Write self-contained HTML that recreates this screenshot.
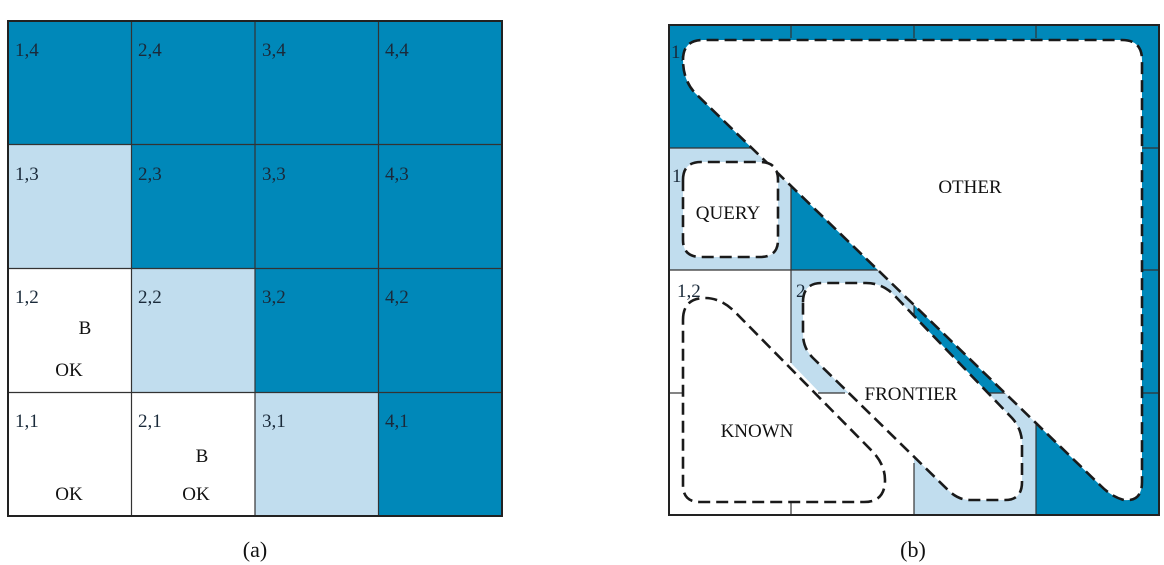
<!DOCTYPE html>
<html><head><meta charset="utf-8"><style>html,body{margin:0;padding:0;background:#fff}svg{display:block}</style></head>
<body>
<svg width="1164" height="565" viewBox="0 0 1164 565" xmlns="http://www.w3.org/2000/svg" font-family="Liberation Serif, serif">
<defs>
<style>.d{fill:#0088b9}.l{fill:#c1ddee}.w{fill:#fff}.t{font-size:19px;fill:#1a2a3a}.k{font-size:19px;fill:#111}</style>
</defs>
<g>
<rect x="8" y="21" width="123.5" height="123.5" class="d"/>
<rect x="131.5" y="21" width="123.5" height="123.5" class="d"/>
<rect x="255" y="21" width="123.5" height="123.5" class="d"/>
<rect x="378.5" y="21" width="123.5" height="123.5" class="d"/>
<rect x="8" y="144.5" width="123.5" height="124" class="l"/>
<rect x="131.5" y="144.5" width="123.5" height="124" class="d"/>
<rect x="255" y="144.5" width="123.5" height="124" class="d"/>
<rect x="378.5" y="144.5" width="123.5" height="124" class="d"/>
<rect x="131.5" y="268.5" width="123.5" height="124" class="l"/>
<rect x="255" y="268.5" width="123.5" height="124" class="d"/>
<rect x="378.5" y="268.5" width="123.5" height="124" class="d"/>
<rect x="255" y="392.5" width="123.5" height="123.5" class="l"/>
<rect x="378.5" y="392.5" width="123.5" height="123.5" class="d"/>
<g stroke="#333" stroke-width="1.2">
<line x1="131.5" y1="21" x2="131.5" y2="516"/><line x1="255" y1="21" x2="255" y2="516"/><line x1="378.5" y1="21" x2="378.5" y2="516"/>
<line x1="8" y1="144.5" x2="502" y2="144.5"/><line x1="8" y1="268.5" x2="502" y2="268.5"/><line x1="8" y1="392.5" x2="502" y2="392.5"/>
</g>
<rect x="8" y="21" width="494" height="495" fill="none" stroke="#222" stroke-width="2"/>
<g class="t">
<text x="15" y="56">1,4</text><text x="138" y="56">2,4</text><text x="262" y="56">3,4</text><text x="385" y="56">4,4</text>
<text x="15" y="180">1,3</text><text x="138" y="180">2,3</text><text x="262" y="180">3,3</text><text x="385" y="180">4,3</text>
<text x="15" y="303">1,2</text><text x="138" y="303">2,2</text><text x="262" y="303">3,2</text><text x="385" y="303">4,2</text>
<text x="15" y="427">1,1</text><text x="138" y="427">2,1</text><text x="262" y="427">3,1</text><text x="385" y="427">4,1</text>
</g>
<g class="k" text-anchor="middle">
<text x="85" y="334">B</text><text x="69" y="376">OK</text>
<text x="202" y="462">B</text><text x="69" y="500">OK</text><text x="196" y="500">OK</text>
</g>
<text x="255" y="557" text-anchor="middle" font-size="22" fill="#111">(a)</text>
</g>

<g>
<rect x="669" y="25" width="122" height="123" class="d"/>
<rect x="791" y="25" width="123" height="123" class="d"/>
<rect x="914" y="25" width="122" height="123" class="d"/>
<rect x="1036" y="25" width="123" height="123" class="d"/>
<rect x="669" y="148" width="122" height="122" class="l"/>
<rect x="791" y="148" width="123" height="122" class="d"/>
<rect x="914" y="148" width="122" height="122" class="d"/>
<rect x="1036" y="148" width="123" height="122" class="d"/>
<rect x="791" y="270" width="123" height="123" class="l"/>
<rect x="914" y="270" width="122" height="123" class="d"/>
<rect x="1036" y="270" width="123" height="123" class="d"/>
<rect x="914" y="393" width="122" height="122" class="l"/>
<rect x="1036" y="393" width="123" height="122" class="d"/>
<polygon points="791,363 791,394 821,394" fill="#fff"/>
<g stroke="#333" stroke-width="1.2">
<line x1="791" y1="25" x2="791" y2="38"/><line x1="791" y1="148" x2="791" y2="363"/><line x1="791" y1="502" x2="791" y2="515"/>
<line x1="914" y1="25" x2="914" y2="38"/><line x1="914" y1="270" x2="914" y2="393"/><line x1="914" y1="463" x2="914" y2="515"/>
<line x1="1036" y1="25" x2="1036" y2="38"/><line x1="1036" y1="270" x2="1036" y2="515"/>
<line x1="669" y1="148" x2="1159" y2="148"/><line x1="669" y1="270" x2="1159" y2="270"/>
<line x1="669" y1="393" x2="683" y2="393"/><line x1="818" y1="393" x2="845" y2="393"/><line x1="914" y1="393" x2="1159" y2="393"/>
</g>
<g class="t">
<text x="671" y="58">1,</text><text x="672" y="182">1</text>
<text x="677" y="297">1,2</text><text x="796" y="297">2,2</text>
</g>
<g fill="#fff" stroke="#1a1a1a" stroke-width="2.6" stroke-dasharray="12,6">
<path d="M683 60 Q683 40 703 40 L1122 40 Q1142 40 1142 60 L1142 482 Q1142 502 1124 500 Q1112 497 1101 486 L695 93 Q683 80 683 60 Z"/>
<path d="M683 180 Q683 162 701 162 L760 162 Q778 162 778 180 L778 240 Q778 257 760 257 L701 257 Q683 257 683 240 Z"/>
<path d="M803 302 Q803 283 822 283 L866 283 Q882 283 894 295 L1012 418 Q1022 429 1022 444 L1022 482 Q1022 500 1005 500 L970 500 Q958 500 948 490 L813 358 Q803 348 803 334 Z"/>
<path d="M683 320 Q683 298 705 298 Q721 298 735 312 L873 452 Q885 465 885 480 Q885 502 864 502 L700 502 Q683 502 683 485 Z"/>
</g>
<rect x="669" y="25" width="490" height="490" fill="none" stroke="#222" stroke-width="2"/>
<g class="k" text-anchor="middle">
<text x="970" y="193">OTHER</text>
<text x="728" y="219">QUERY</text>
<text x="911" y="400">FRONTIER</text>
<text x="757" y="437">KNOWN</text>
</g>
<text x="913" y="557" text-anchor="middle" font-size="22" fill="#111">(b)</text>
</g>
</svg>
</body></html>
